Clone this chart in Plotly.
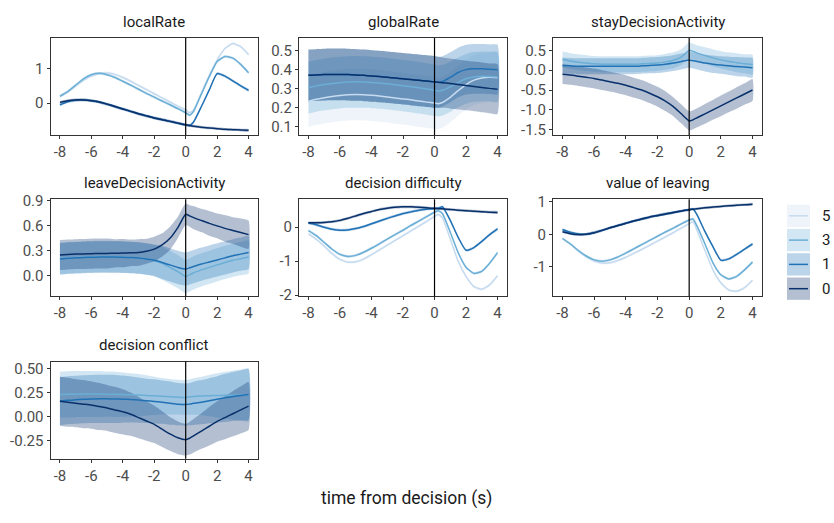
import plotly.graph_objects as go

# ---------------- data ----------------
TIME = [-8, -7.5, -7, -6.5, -6, -5.5, -5, -4.5, -4, -3.5, -3, -2.5, -2, -1.5, -1, -0.5,
        0, 0.25, 0.5, 1, 1.5, 2, 2.5, 3, 3.5, 4]
X_TICKS = [-8, -6, -4, -2, 0, 2, 4]
X_TICK_LABELS = ["-8", "-6", "-4", "-2", "0", "2", "4"]
GROUPS = ["5", "3", "1", "0"]
PANEL_TITLES = ["localRate", "globalRate", "stayDecisionActivity", "leaveDecisionActivity",
                "decision difficulty", "value of leaving", "decision conflict"]
X_AXIS_TITLE = "time from decision (s)"

# localRate
LR_M0 = [0.02, 0.07, 0.09, 0.09, 0.07, 0.03, -0.03, -0.1, -0.17, -0.24, -0.31, -0.37, -0.43, -0.48, -0.53, -0.58,
         -0.63, -0.65, -0.67, -0.7, -0.72, -0.74, -0.76, -0.77, -0.78, -0.79]
LR_M1 = [-0.05, 0.04, 0.08, 0.09, 0.07, 0.03, -0.03, -0.1, -0.17, -0.24, -0.31, -0.37, -0.43, -0.48, -0.53, -0.58,
         -0.63, -0.65, -0.55, -0.1, 0.38, 0.85, 0.78, 0.64, 0.5, 0.37]
LR_M3 = [0.2, 0.33, 0.52, 0.7, 0.82, 0.86, 0.82, 0.74, 0.63, 0.52, 0.4, 0.28, 0.17, 0.06, -0.05, -0.16,
         -0.28, -0.35, -0.24, 0.26, 0.76, 1.2, 1.35, 1.3, 1.12, 0.88]
LR_M5 = [0.18, 0.32, 0.49, 0.66, 0.78, 0.85, 0.87, 0.83, 0.74, 0.63, 0.51, 0.39, 0.27, 0.15, 0.03, -0.09,
         -0.2, -0.28, -0.2, 0.3, 0.8, 1.25, 1.58, 1.72, 1.63, 1.4]
LR_SE = [0.04, 0.04, 0.04, 0.04, 0.04, 0.04, 0.04, 0.04, 0.04, 0.04, 0.04, 0.04, 0.04, 0.04, 0.04, 0.04,
         0.04, 0.04, 0.04, 0.04, 0.04, 0.04, 0.04, 0.04, 0.04, 0.04]

# globalRate
GR_M0 = [0.37, 0.372, 0.374, 0.375, 0.375, 0.374, 0.372, 0.37, 0.367, 0.364, 0.36, 0.356, 0.352, 0.348, 0.344, 0.34,
         0.336, 0.334, 0.332, 0.327, 0.322, 0.317, 0.312, 0.307, 0.302, 0.298]
GR_M1 = [0.37, 0.372, 0.374, 0.375, 0.375, 0.374, 0.372, 0.37, 0.367, 0.364, 0.36, 0.356, 0.352, 0.348, 0.344, 0.34,
         0.336, 0.333, 0.338, 0.36, 0.385, 0.4, 0.404, 0.404, 0.402, 0.4]
GR_M3 = [0.305, 0.315, 0.322, 0.328, 0.332, 0.335, 0.336, 0.335, 0.333, 0.33, 0.326, 0.321, 0.316, 0.311, 0.305, 0.299,
         0.292, 0.288, 0.292, 0.31, 0.333, 0.352, 0.362, 0.365, 0.364, 0.362]
GR_M5 = [0.235, 0.245, 0.253, 0.26, 0.265, 0.269, 0.27, 0.269, 0.266, 0.262, 0.257, 0.252, 0.247, 0.242, 0.236, 0.23,
         0.225, 0.222, 0.228, 0.255, 0.29, 0.322, 0.345, 0.356, 0.36, 0.358]
GR_SE = [0.135, 0.135, 0.135, 0.135, 0.135, 0.135, 0.135, 0.135, 0.135, 0.135, 0.135, 0.135, 0.135, 0.135, 0.135, 0.135,
         0.135, 0.133, 0.132, 0.131, 0.13, 0.13, 0.13, 0.13, 0.13, 0.13]

# stayDecisionActivity
SD_M0 = [-0.1, -0.12, -0.15, -0.18, -0.21, -0.25, -0.29, -0.33, -0.38, -0.44, -0.5, -0.58, -0.67, -0.78, -0.92, -1.1,
         -1.28, -1.25, -1.2, -1.1, -1.0, -0.9, -0.8, -0.7, -0.6, -0.5]
SD_SE0 = [0.25, 0.25, 0.25, 0.25, 0.25, 0.25, 0.25, 0.25, 0.25, 0.25, 0.25, 0.25, 0.25, 0.25, 0.24, 0.24,
          0.24, 0.24, 0.24, 0.25, 0.25, 0.26, 0.26, 0.27, 0.27, 0.28]
SD_M1 = [0.12, 0.11, 0.1, 0.1, 0.1, 0.1, 0.1, 0.1, 0.1, 0.1, 0.11, 0.12, 0.13, 0.15, 0.18, 0.22,
         0.26, 0.24, 0.22, 0.18, 0.15, 0.13, 0.11, 0.09, 0.08, 0.06]
SD_M3 = [0.27, 0.23, 0.2, 0.18, 0.16, 0.15, 0.15, 0.15, 0.15, 0.15, 0.16, 0.17, 0.18, 0.21, 0.25, 0.33,
         0.5, 0.47, 0.43, 0.37, 0.31, 0.26, 0.22, 0.19, 0.16, 0.14]
SD_SE13 = [0.2, 0.2, 0.2, 0.2, 0.2, 0.2, 0.2, 0.2, 0.2, 0.2, 0.2, 0.2, 0.2, 0.2, 0.2, 0.2,
           0.2, 0.2, 0.2, 0.21, 0.22, 0.22, 0.23, 0.24, 0.24, 0.25]

# leaveDecisionActivity
LD_M0 = [0.25, 0.255, 0.26, 0.262, 0.265, 0.267, 0.268, 0.27, 0.272, 0.275, 0.28, 0.295, 0.32, 0.37, 0.45, 0.58,
         0.74, 0.72, 0.7, 0.665, 0.63, 0.6, 0.57, 0.545, 0.52, 0.495]
LD_SE0 = [0.18, 0.18, 0.18, 0.18, 0.18, 0.18, 0.18, 0.17, 0.17, 0.16, 0.16, 0.15, 0.15, 0.14, 0.14, 0.13,
          0.13, 0.13, 0.14, 0.14, 0.15, 0.15, 0.16, 0.16, 0.17, 0.17]
LD_M1 = [0.2, 0.21, 0.215, 0.22, 0.222, 0.224, 0.225, 0.224, 0.222, 0.218, 0.212, 0.2, 0.185, 0.16, 0.13, 0.1,
         0.08, 0.095, 0.11, 0.14, 0.165, 0.19, 0.215, 0.24, 0.26, 0.28]
LD_M3 = [0.21, 0.215, 0.22, 0.225, 0.228, 0.23, 0.23, 0.228, 0.225, 0.22, 0.212, 0.2, 0.18, 0.15, 0.1, 0.05,
         -0.01, 0.01, 0.035, 0.07, 0.1, 0.13, 0.16, 0.185, 0.205, 0.225]
LD_SE13 = [0.19, 0.19, 0.19, 0.19, 0.19, 0.19, 0.19, 0.19, 0.19, 0.19, 0.19, 0.19, 0.19, 0.2, 0.2, 0.2,
           0.2, 0.2, 0.2, 0.2, 0.2, 0.2, 0.2, 0.2, 0.2, 0.2]

# decision difficulty
DD_M0 = [0.13, 0.13, 0.14, 0.16, 0.2, 0.26, 0.33, 0.4, 0.46, 0.52, 0.56, 0.59, 0.6, 0.6, 0.59, 0.57,
         0.55, 0.545, 0.54, 0.52, 0.5, 0.485, 0.47, 0.455, 0.44, 0.43]
DD_M1 = [0.12, 0.07, 0.0, -0.06, -0.09, -0.08, -0.04, 0.02, 0.1, 0.18, 0.26, 0.33, 0.4, 0.45, 0.5, 0.53,
         0.55, 0.56, 0.6, 0.2, -0.3, -0.68, -0.6, -0.42, -0.22, -0.05]
DD_M3 = [-0.1, -0.25, -0.45, -0.65, -0.8, -0.86, -0.83, -0.74, -0.62, -0.49, -0.35, -0.22, -0.09, 0.05, 0.18, 0.31,
         0.44, 0.48, 0.4, -0.15, -0.75, -1.18, -1.36, -1.3, -1.06, -0.75]
DD_M5 = [-0.2, -0.36, -0.56, -0.78, -0.95, -1.03, -1.02, -0.94, -0.81, -0.67, -0.53, -0.39, -0.25, -0.11, 0.03, 0.17,
         0.32, 0.37, 0.28, -0.35, -1.0, -1.45, -1.75, -1.83, -1.7, -1.43]
DD_SE = [0.04, 0.04, 0.04, 0.04, 0.04, 0.04, 0.04, 0.04, 0.04, 0.04, 0.04, 0.04, 0.04, 0.04, 0.04, 0.04,
         0.04, 0.04, 0.04, 0.04, 0.04, 0.04, 0.04, 0.04, 0.04, 0.04]

# value of leaving
VL_M0 = [0.08, 0.02, -0.01, 0.0, 0.05, 0.12, 0.2, 0.27, 0.34, 0.41, 0.47, 0.53, 0.58, 0.63, 0.67, 0.72,
         0.76, 0.775, 0.79, 0.82, 0.84, 0.86, 0.88, 0.9, 0.91, 0.93]
VL_M1 = [0.15, 0.06, 0.01, 0.0, 0.05, 0.12, 0.2, 0.27, 0.34, 0.41, 0.47, 0.53, 0.58, 0.63, 0.67, 0.72,
         0.76, 0.78, 0.6, 0.08, -0.38, -0.8, -0.76, -0.62, -0.46, -0.3]
VL_M3 = [-0.13, -0.3, -0.5, -0.67, -0.79, -0.83, -0.79, -0.7, -0.58, -0.45, -0.32, -0.19, -0.06, 0.07, 0.19, 0.32,
         0.44, 0.47, 0.25, -0.3, -0.88, -1.25, -1.38, -1.3, -1.1, -0.86]
VL_M5 = [-0.13, -0.3, -0.52, -0.7, -0.83, -0.89, -0.88, -0.81, -0.71, -0.59, -0.47, -0.34, -0.21, -0.08, 0.05, 0.19,
         0.33, 0.39, 0.12, -0.5, -1.1, -1.5, -1.72, -1.76, -1.65, -1.42]
VL_SE = [0.04, 0.04, 0.04, 0.04, 0.04, 0.04, 0.04, 0.04, 0.04, 0.04, 0.04, 0.04, 0.04, 0.04, 0.04, 0.04,
         0.04, 0.04, 0.04, 0.04, 0.04, 0.04, 0.04, 0.04, 0.04, 0.04]

# decision conflict
DC_M0 = [0.16, 0.15, 0.14, 0.13, 0.12, 0.105, 0.09, 0.07, 0.05, 0.025, -0.01, -0.045, -0.08, -0.13, -0.18, -0.22,
         -0.24, -0.225, -0.2, -0.15, -0.1, -0.05, -0.01, 0.03, 0.07, 0.11]
DC_SE0 = [0.255, 0.255, 0.25, 0.25, 0.245, 0.245, 0.24, 0.24, 0.235, 0.225, 0.215, 0.205, 0.195, 0.185, 0.175, 0.17,
          0.165, 0.17, 0.175, 0.185, 0.2, 0.21, 0.225, 0.235, 0.245, 0.25]
DC_M1 = [0.16, 0.17, 0.175, 0.18, 0.183, 0.185, 0.185, 0.184, 0.182, 0.178, 0.172, 0.165, 0.158, 0.15, 0.14, 0.13,
         0.125, 0.13, 0.138, 0.15, 0.165, 0.18, 0.195, 0.21, 0.22, 0.23]
DC_SE1 = [0.25, 0.25, 0.25, 0.25, 0.25, 0.25, 0.25, 0.25, 0.245, 0.24, 0.235, 0.23, 0.23, 0.225, 0.225, 0.22,
          0.22, 0.22, 0.225, 0.23, 0.235, 0.24, 0.25, 0.255, 0.26, 0.265]
DC_M3 = [0.23, 0.232, 0.234, 0.235, 0.235, 0.235, 0.234, 0.232, 0.23, 0.227, 0.224, 0.22, 0.216, 0.212, 0.207, 0.203,
         0.2, 0.205, 0.21, 0.215, 0.218, 0.22, 0.222, 0.223, 0.224, 0.225]
DC_SE3 = [0.24, 0.24, 0.24, 0.24, 0.24, 0.24, 0.235, 0.235, 0.23, 0.225, 0.22, 0.21, 0.2, 0.19, 0.185, 0.18,
          0.18, 0.185, 0.19, 0.2, 0.215, 0.23, 0.245, 0.255, 0.265, 0.275]

Y_TICKS = [[0, 1], [0.1, 0.2, 0.3, 0.4, 0.5], [-1.5, -1.0, -0.5, 0.0, 0.5], [0.0, 0.3, 0.6, 0.9],
           [-2, -1, 0], [-1, 0, 1], [-0.25, 0.0, 0.25, 0.5]]
Y_TICK_LABELS = [["0", "1"], ["0.1", "0.2", "0.3", "0.4", "0.5"], ["-1.5", "-1.0", "-0.5", "0.0", "0.5"],
                 ["0.0", "0.3", "0.6", "0.9"], ["-2", "-1", "0"], ["-1", "0", "1"],
                 ["-0.25", "0.00", "0.25", "0.50"]]

# per panel: {group: (mean, se)}
PANEL_DATA = [
    {"5": (LR_M5, LR_SE), "3": (LR_M3, LR_SE), "1": (LR_M1, LR_SE), "0": (LR_M0, LR_SE)},
    {"5": (GR_M5, GR_SE), "3": (GR_M3, GR_SE), "1": (GR_M1, GR_SE), "0": (GR_M0, GR_SE)},
    {"3": (SD_M3, SD_SE13), "1": (SD_M1, SD_SE13), "0": (SD_M0, SD_SE0)},
    {"3": (LD_M3, LD_SE13), "1": (LD_M1, LD_SE13), "0": (LD_M0, LD_SE0)},
    {"5": (DD_M5, DD_SE), "3": (DD_M3, DD_SE), "1": (DD_M1, DD_SE), "0": (DD_M0, DD_SE)},
    {"5": (VL_M5, VL_SE), "3": (VL_M3, VL_SE), "1": (VL_M1, VL_SE), "0": (VL_M0, VL_SE)},
    {"3": (DC_M3, DC_SE3), "1": (DC_M1, DC_SE1), "0": (DC_M0, DC_SE0)},
]

# ---------------- styling ----------------
W, H = 834, 523
LINE_COLORS = {"5": "#C6DBEF", "3": "#6BAED6", "1": "#2171B5", "0": "#08306B"}
FILL_COLORS = {"5": "rgba(198,219,239,0.3)", "3": "rgba(107,174,214,0.3)",
               "1": "rgba(33,113,181,0.3)", "0": "rgba(8,48,107,0.3)"}
FONT = "Roboto, 'Open Sans', sans-serif"

COL_PX = [(50.5, 258), (299, 507), (553, 762)]
ROW_PX = [(32, 132), (198, 298), (365, 465)]
Y_RANGES = [[-0.93, 1.88], [0.057, 0.565], [-1.64, 0.81], [-0.25, 0.92],
            [-2.04, 0.82], [-1.92, 1.08], [-0.437, 0.573]]
X_RANGE = [-8.6, 4.6]

fig = go.Figure()
layout = dict(width=W, height=H, margin=dict(l=0, r=0, t=0, b=0),
              paper_bgcolor="white", plot_bgcolor="white", showlegend=False,
              font=dict(family=FONT))
annotations = []
shapes = []

for i, title in enumerate(PANEL_TITLES):
    r, c = divmod(i, 3)
    xs = "" if i == 0 else str(i + 1)
    xref, yref = "x" + xs, "y" + xs
    x0p, x1p = COL_PX[c]
    y0p, y1p = ROW_PX[r]
    common = dict(showline=True, mirror=True, linecolor="#333333", linewidth=1,
                  ticks="outside", ticklen=3, tickwidth=1, tickcolor="#333333",
                  showgrid=False, zeroline=False,
                  tickfont=dict(size=15, color="#4d4d4d", family=FONT))
    layout["xaxis" + xs] = dict(domain=[x0p / W, x1p / W], anchor=yref, range=X_RANGE,
                                tickmode="array", tickvals=X_TICKS, ticktext=X_TICK_LABELS, **common)
    layout["yaxis" + xs] = dict(domain=[1 - y1p / H, 1 - y0p / H], anchor=xref, range=Y_RANGES[i],
                                tickmode="array", tickvals=Y_TICKS[i], ticktext=Y_TICK_LABELS[i], **common)
    data = PANEL_DATA[i]
    # ribbons
    for g in GROUPS:
        if g not in data:
            continue
        m, se = data[g]
        hi = [a + b for a, b in zip(m, se)]
        lo = [a - b for a, b in zip(m, se)]
        fig.add_trace(go.Scatter(x=TIME + TIME[::-1], y=hi + lo[::-1], fill="toself",
                                 fillcolor=FILL_COLORS[g], mode="lines",
                                 line=dict(width=0, shape="spline", smoothing=0.5),
                                 hoverinfo="skip", xaxis=xref, yaxis=yref))
    # lines
    for g in GROUPS:
        if g not in data:
            continue
        m, se = data[g]
        fig.add_trace(go.Scatter(x=TIME, y=m, mode="lines",
                                 line=dict(color=LINE_COLORS[g], width=1.5, shape="spline", smoothing=0.5),
                                 xaxis=xref, yaxis=yref, name=g))
    shapes.append(dict(type="line", xref=xref, yref=yref + " domain", x0=0, x1=0, y0=0, y1=1,
                       line=dict(color="black", width=1.2)))
    annotations.append(dict(text=title, xref="paper", yref="paper",
                            x=(x0p + x1p) / 2 / W, y=1 - (y0p - 17) / H,
                            xanchor="center", yanchor="middle", showarrow=False,
                            font=dict(size=15, color="#1a1a1a", family=FONT)))

annotations.append(dict(text=X_AXIS_TITLE, xref="paper", yref="paper",
                        x=406 / W, y=1 - 506 / H, xanchor="center", yanchor="middle",
                        showarrow=False, font=dict(size=17.5, color="#1a1a1a", family=FONT)))

# legend (manual, ggplot style)
LEG_Y = [215, 240, 265, 290]
for g, cy in zip(GROUPS, LEG_Y):
    shapes.append(dict(type="rect", xref="paper", yref="paper",
                       x0=787 / W, x1=810 / W, y0=1 - (cy + 11.5) / H, y1=1 - (cy - 11.5) / H,
                       fillcolor=FILL_COLORS[g], line=dict(width=0)))
    shapes.append(dict(type="line", xref="paper", yref="paper",
                       x0=789 / W, x1=808 / W, y0=1 - cy / H, y1=1 - cy / H,
                       line=dict(color=LINE_COLORS[g], width=1.5)))
    annotations.append(dict(text=g, xref="paper", yref="paper", x=826 / W, y=1 - cy / H,
                            xanchor="center", yanchor="middle", showarrow=False,
                            font=dict(size=15, color="#1a1a1a", family=FONT)))

layout["annotations"] = annotations
layout["shapes"] = shapes
fig.update_layout(**layout)
fig.write_html("out.html", config={"displayModeBar": False},
               post_script="document.body.style.margin='0px';document.body.style.padding='0px';"
                           "document.body.style.overflow='hidden';")
